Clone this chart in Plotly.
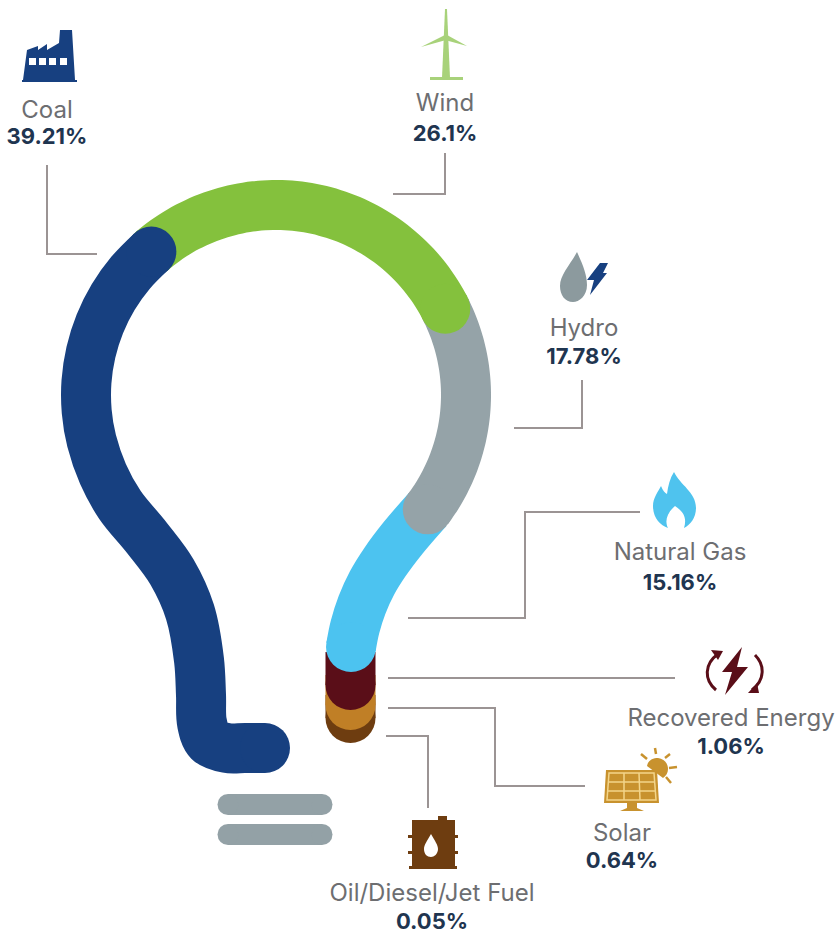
import numpy as np
import plotly.graph_objects as go

# ---- chart content ----
categories = ["Coal", "Wind", "Hydro", "Natural Gas", "Recovered Energy", "Solar", "Oil/Diesel/Jet Fuel"]
shares = [39.21, 26.1, 17.78, 15.16, 1.06, 0.64, 0.05]
colors = ["#174080", "#84c13d", "#95a3a8", "#4cc3f0", "#5a0e18", "#c07f26", "#6e3d10"]

# ---- layout of the drawing (pixel canvas) ----
W, H = 840, 933
BULB = 50
CX, CY, R = 276, 395, 190
label_x = [47, 445, 584, 680, 731, 622, 432]
name_y = [112, 105, 330, 554, 720, 835, 895]
value_y = [138, 135, 358, 584, 748, 862, 923]


def arc(a0, a1, n=40):
    t = np.radians(np.linspace(a0, a1, n))
    return list(CX + R * np.cos(t)), list(CY + R * np.sin(t))


def join(*parts):
    xs, ys = [], []
    for x, y in parts:
        xs += list(x)
        ys += list(y)
    return xs, ys


bx, by = arc(166, 229, 8)
gx, gy = arc(37, 37, 1)
paths = {
    "Oil/Diesel/Jet Fuel": ([350.5, 350.5], [695, 718]),
    "Solar": ([350.5, 350.5], [675, 705]),
    "Recovered Energy": ([350.5, 350.5], [652, 685]),
    "Natural Gas": (gx + [403, 385, 372, 362, 355, 351], gy + [538, 562, 583, 605, 627, 647]),
    "Hydro": arc(-27, 37),
    "Wind": arc(229, 333),
    "Coal": join(([265, 245, 227, 209, 202, 201, 199, 190, 172, 147, 120, 103],
                  [748, 748, 748, 741, 723, 695, 660, 612, 572, 538, 505, 474]), (bx, by)),
}
start_cap = {"Hydro", "Wind", "Coal"}

fig = go.Figure()

# bulb segments, bottom to top so each rounded end overlaps the next one
for name in ["Oil/Diesel/Jet Fuel", "Solar", "Recovered Energy", "Natural Gas", "Hydro", "Wind", "Coal"]:
    c = colors[categories.index(name)]
    x, y = paths[name]
    first = BULB if name in start_cap else 0
    sizes = [first] + [0] * (len(x) - 2) + [BULB]
    fig.add_trace(go.Scatter(
        x=x, y=y, mode="lines+markers", name=name,
        line=dict(color=c, width=BULB, shape="spline", smoothing=1),
        marker=dict(color=c, size=sizes, line=dict(width=0), opacity=1),
        hoverinfo="skip", showlegend=False))

# screw base of the bulb
for yb in [804.5, 834.5]:
    fig.add_trace(go.Scatter(
        x=[228, 322], y=[yb, yb], mode="lines+markers",
        line=dict(color="#93a1a6", width=21),
        marker=dict(color="#93a1a6", size=21, line=dict(width=0)),
        hoverinfo="skip", showlegend=False))

# leader lines
leaders = [
    ([47, 47, 97], [165, 254, 254]),
    ([445, 445, 393], [153, 194, 194]),
    ([582, 582, 514], [380, 428, 428]),
    ([640, 525, 525, 408], [512, 512, 618, 618]),
    ([388, 675], [678, 678]),
    ([388, 495, 495, 585], [708, 708, 786, 786]),
    ([386, 428, 428], [736, 736, 808]),
]
for x, y in leaders:
    fig.add_trace(go.Scatter(x=x, y=y, mode="lines", line=dict(color="#9b9494", width=2),
                             hoverinfo="skip", showlegend=False))

# labels
fig.add_trace(go.Scatter(
    x=label_x, y=name_y, mode="text", text=categories, textposition="middle center",
    textfont=dict(family="Inter, Open Sans, sans-serif", size=24, color="#6d6e71"),
    hoverinfo="skip", showlegend=False))
fig.add_trace(go.Scatter(
    x=label_x, y=value_y, mode="text", text=[f"{s}%" for s in shares], textposition="middle center",
    textfont=dict(family="Inter, Open Sans, sans-serif", size=22, color="#1f3550", weight=700),
    hoverinfo="skip", showlegend=False))


# icons
def P(d, fill=None, line=None, w=0):
    return dict(type="path", xref="x", yref="y", path=d, fillcolor=fill or "rgba(0,0,0,0)",
                line=dict(color=line or "rgba(0,0,0,0)", width=w), layer="above")


shapes = []
# factory
shapes.append(P("M23,80 L27,50 L38,46 L38,50 L47,44 L47,50 L59,43 L60,30 L72,30 L75,80 Z", "#174080"))
shapes.append(P("M22,81 L77,81", None, "#174080", 2))
for wx in [29, 39, 49, 60]:
    shapes.append(P(f"M{wx},58 L{wx+7},58 L{wx+7},65 L{wx},65 Z", "#ffffff"))
# wind turbine
g = "#a8d27a"
shapes.append(P("M445,9 L447,9 L450,78 L442,78 Z", g))
shapes.append(P("M430,77 L463,77 L463,80 L430,80 Z", g))
shapes.append(P("M445,35 L421,47 L446,40 Z", g))
shapes.append(P("M447,35 L467,46 L445,40 Z", g))
# hydro
shapes.append(P("M577,252 C583,265 587,275 587,285 C587,296 579,302 573,302 C565,302 560,295 560,286 C560,275 570,265 577,252 Z", "#8c9a9e"))
shapes.append(P("M600,263 L608,263 L603,273 L607,273 L590,295 L594,280 L587,280 Z", "#174080"))
# flame
shapes.append(P("M674,472 C680,485 696,492 696,508 C696,518 690,525 684,528 C687,518 684,512 675,506 C668,512 664,520 668,528 C660,525 653,518 653,506 C653,498 658,492 661,486 C663,491 665,493 667,494 C668,486 670,478 674,472 Z", "#4fc3ee"))
# recovered energy
m = "#5a0e18"
shapes.append(P("M742,647 L722,672 L732,672 L725,695 L748,667 L737,667 Z", m))
shapes.append(P("M718,654 C704,664 704,680 716,690", None, m, 3))
shapes.append(P("M711,650 L723,651 L718,660 Z", m))
shapes.append(P("M755,655 C765,665 765,680 752,690", None, m, 3))
shapes.append(P("M748,693 L759,693 L757,683 Z", m))
# solar
o = "#c8922e"
shapes.append(P("M606,770 L657,770 L659,803 L604,803 Z", o))
shapes.append(P("M609,773 L654,773 L656,800 L607,800 Z", None, "#f3d58a", 1.5))
for d in ["M608,782 L655,782", "M608,791 L656,791", "M624,773 L624,800", "M639,773 L640,800"]:
    shapes.append(P(d, None, "#f3d58a", 1.5))
shapes.append(P("M627,803 L637,803 L637,808 L644,811 L620,811 L627,808 Z", o))
shapes.append(P("M647,766 C648,760 653,758 658,758 C664,759 668,763 668,769 C668,773 666,776 663,778 Z", o))
for d in ["M656,754 L655,748", "M665,758 L670,754", "M669,768 L677,767", "M666,777 L671,783", "M647,759 L641,754"]:
    shapes.append(P(d, None, o, 2.5))
# oil barrel
b = "#6e3d10"
shapes.append(P("M412,820 L455,820 L455,866 L412,866 Z", b))
shapes.append(P("M409,866 L457,866 L457,869 L409,869 Z", b))
shapes.append(P("M438,816 L447,816 L447,820 L438,820 Z", b))
shapes.append(P("M408,835 L458,835 L458,838 L408,838 Z", b))
shapes.append(P("M408,851 L458,851 L458,854 L408,854 Z", b))
shapes.append(P("M431,834 C435,841 438,845 438,849 C438,854 434,857 431,857 C427,857 424,854 424,849 C424,845 427,841 431,834 Z", "#ffffff"))

fig.update_layout(
    width=W, height=H, margin=dict(l=0, r=0, t=0, b=0),
    paper_bgcolor="white", plot_bgcolor="white", showlegend=False, shapes=shapes,
    xaxis=dict(range=[0, W], visible=False, fixedrange=True),
    yaxis=dict(range=[H, 0], visible=False, fixedrange=True),
)
fig.write_html("out.html", config={"displayModeBar": False},
               post_script="document.body.style.margin='0';document.documentElement.style.overflow='hidden';")
